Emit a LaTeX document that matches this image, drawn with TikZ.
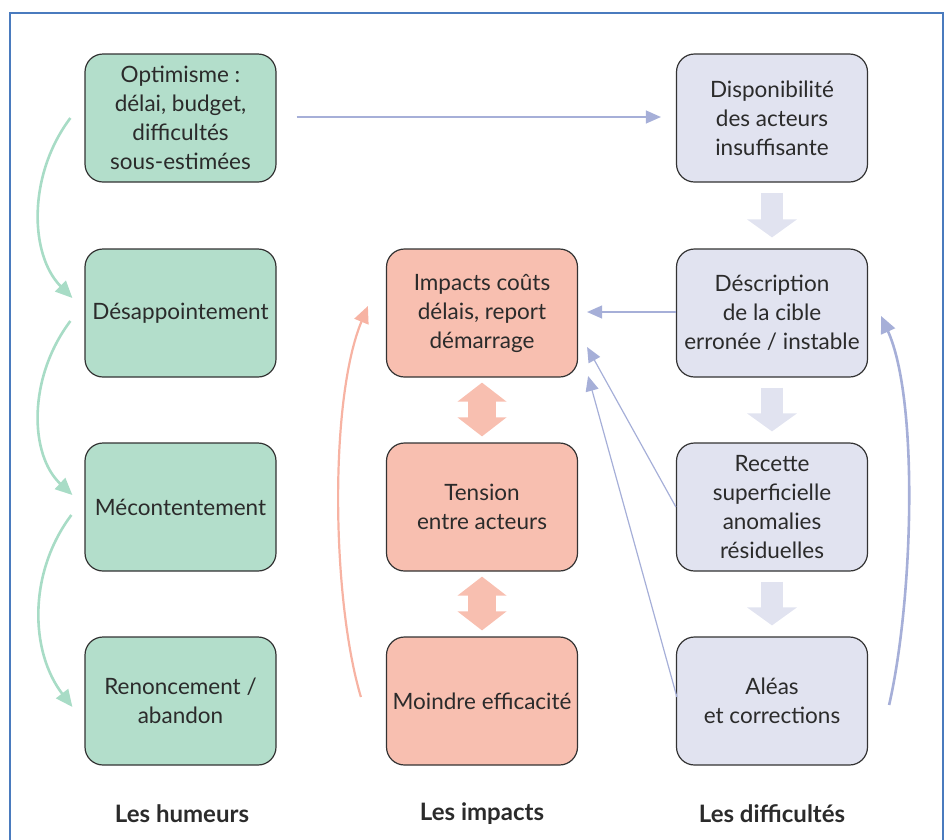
\documentclass[tikz,border=0pt]{standalone}
\usepackage{fontspec}
\setmainfont{Lato}
\usetikzlibrary{arrows.meta}
\definecolor{greenfill}{HTML}{B3DECB}
\definecolor{salmonfill}{HTML}{F8BFB0}
\definecolor{lavfill}{HTML}{E1E3F0}
\definecolor{greenarrow}{HTML}{A8DCC6}
\definecolor{bluearrow}{HTML}{A6AFD8}
\definecolor{salmonarrow}{HTML}{F7B3A3}
\definecolor{framecol}{HTML}{4A7BBE}
\definecolor{boxline}{HTML}{333333}
\definecolor{txt}{HTML}{2B2B2B}
\tikzset{
  box/.style={draw=boxline, line width=1.2pt, rounded corners=18pt,
    minimum width=191pt, minimum height=128pt, align=center,
    font=\fontsize{22.5}{29}\selectfont, text=txt, inner sep=2pt},
  gbox/.style={box, fill=greenfill},
  sbox/.style={box, fill=salmonfill},
  lbox/.style={box, fill=lavfill},
  greencurve/.style={draw=greenarrow, line width=2.6pt,
    -{Triangle[length=17pt,width=15pt]}},
  bluecurve/.style={draw=bluearrow, line width=2.6pt,
    -{Triangle[length=17pt,width=15pt]}},
  salmoncurve/.style={draw=salmonarrow, line width=2.2pt,
    -{Triangle[length=17pt,width=15pt]}},
  thinarrow/.style={draw=bluearrow, line width=1.2pt,
    -{Triangle[length=15pt,width=13pt]}},
  downblock/.style={draw=lavfill, line width=22pt,
    -{Triangle[length=18pt,width=49pt]}},
  dblblock/.style={draw=salmonfill, line width=28pt,
    {Triangle[length=19pt,width=48pt]}-{Triangle[length=19pt,width=48pt]}},
  collabel/.style={font=\fontsize{24}{28}\selectfont\bfseries, text=txt}
}
\begin{document}
\begin{tikzpicture}[x=1pt,y=-1pt]
\useasboundingbox (0,0) rectangle (950,839);
\draw[framecol, line width=1.5pt] (10,845) -- (10,13) -- (943,13) -- (943,845);

% left column
\node[gbox] (opt) at (180.5,118) {Optimisme :\\délai, budget,\\difficultés\\sous-estimées};
\node[gbox] (desap) at (180.5,313) {Désappointement};
\node[gbox] (mec) at (180.5,507) {Mécontentement};
\node[gbox] (ren) at (180.5,701) {Renoncement /\\abandon};

% middle column
\node[sbox] (imp) at (482,313) {Impacts coûts\\délais, report\\démarrage};
\node[sbox] (ten) at (482,507) {Tension\\entre acteurs};
\node[sbox] (moi) at (482,701) {Moindre efficacité};

% right column
\node[lbox] (disp) at (772,118) {Disponibilité\\des acteurs\\insuffisante};
\node[lbox] (desc) at (772,313) {Déscription\\de la cible\\erronée / instable};
\node[lbox] (rec) at (772,507) {Recette\\superficielle\\anomalies\\résiduelles};
\node[lbox] (ale) at (772,701) {Aléas\\et corrections};

% labels
\node[collabel] (l1) at (182,814) {Les humeurs};
\node[collabel] (l2) at (482,814) {Les impacts};
\node[collabel] (l3) at (772,814) {Les difficultés};

% green curved arrows
\draw[greencurve] ([shift={(-14,0)}]opt.west) .. controls ([shift={(-57,57)}]opt.west) and ([shift={(-55,-58)}]desap.west) .. ([shift={(-12,-15)}]desap.west);
\draw[greencurve] ([shift={(-14,8)}]desap.west) .. controls ([shift={(-57,65)}]desap.west) and ([shift={(-55,-52)}]mec.west) .. ([shift={(-12,-12)}]mec.west);
\draw[greencurve] ([shift={(-13,8)}]mec.west) .. controls ([shift={(-56,65)}]mec.west) and ([shift={(-55,-50)}]ren.west) .. ([shift={(-12,6)}]ren.west);

% horizontal thin arrow
\draw[thinarrow] ([shift={(20,-1)}]opt.east) -- ([shift={(-15,-1)}]disp.west);

% down block arrows
\draw[downblock] ([yshift=-10pt]disp.south) -- ([yshift=11pt]desc.north);
\draw[downblock] ([yshift=-10pt]desc.south) -- ([yshift=11pt]rec.north);
\draw[downblock] ([yshift=-10pt]rec.south) -- ([yshift=11pt]ale.north);

% double block arrows
\draw[dblblock] ([yshift=-5pt]imp.south) -- ([yshift=6pt]ten.north);
\draw[dblblock] ([yshift=-5pt]ten.south) -- ([yshift=6pt]moi.north);

% salmon curved arrow
\draw[salmoncurve] ([shift={(-25,-4)}]moi.west) .. controls ([shift={(-54,-101)}]moi.west) and ([shift={(-57,87)}]imp.west) .. ([shift={(-18,-7)}]imp.west);

% blue thin arrows to impacts
\draw[thinarrow] ([yshift=1pt]desc.west) -- ([shift={(9,-1)}]imp.east);
\draw[thinarrow] (rec.west) -- ([shift={(9,34)}]imp.east);
\draw[thinarrow] ([shift={(1,-4)}]ale.west) -- ([shift={(10,63)}]imp.east);

% blue curved arrow right
\draw[bluecurve] ([shift={(21,4)}]ale.east) .. controls ([shift={(45,-101)}]ale.east) and ([shift={(51,87)}]desc.east) .. ([shift={(13,3)}]desc.east);
\end{tikzpicture}
\end{document}
